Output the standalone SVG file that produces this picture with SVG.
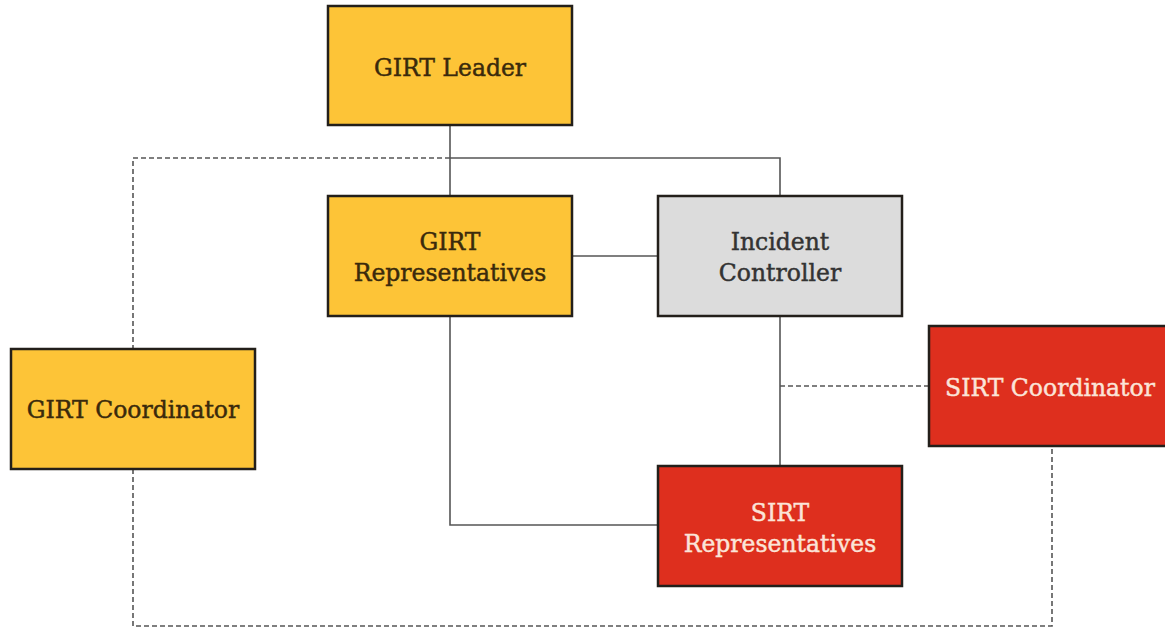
<svg xmlns="http://www.w3.org/2000/svg" width="1165" height="630" viewBox="0 0 1165 630">
<style>
.box{stroke:#231f1a;stroke-width:2.5}
.y{fill:#fdc437}
.g{fill:#dcdcdc}
.r{fill:#de2f1e}
.t{font-family:"DejaVu Serif","Liberation Serif",serif;font-size:23.5px;text-anchor:middle;stroke-width:0.45}
.ty{fill:#3a2a0c;stroke:#3a2a0c}
.tg{fill:#333333;stroke:#333333}
.tr{fill:#fbe4d8;stroke:#fbe4d8}
.solid{fill:none;stroke:#555;stroke-width:1.6}
.dash{fill:none;stroke:#555;stroke-width:1.6;stroke-dasharray:5 3}
</style>
<rect width="1165" height="630" fill="#ffffff"/>
<g id="connectors">
<path class="solid" d="M450 125 V196"/>
<path class="solid" d="M450 158 H780 V196"/>
<path class="solid" d="M572 256 H658"/>
<path class="solid" d="M780 316 V466"/>
<path class="solid" d="M450 316 V525 H658"/>
<path class="dash" d="M450 158 H133 V349"/>
<path class="dash" d="M133 469 V626 H1052 V446"/>
<path class="dash" d="M780 386 H929"/>
</g>
<g id="girt-leader">
<rect class="box y" x="328" y="6" width="244" height="119"/>
<text class="t ty" x="450" y="76">GIRT Leader</text>
</g>
<g id="girt-representatives">
<rect class="box y" x="328" y="196" width="244" height="120"/>
<text class="t ty" x="450" y="250">GIRT</text>
<text class="t ty" x="450" y="281">Representatives</text>
</g>
<g id="incident-controller">
<rect class="box g" x="658" y="196" width="244" height="120"/>
<text class="t tg" x="780" y="250">Incident</text>
<text class="t tg" x="780" y="281">Controller</text>
</g>
<g id="girt-coordinator">
<rect class="box y" x="11" y="349" width="244" height="120"/>
<text class="t ty" x="133" y="418">GIRT Coordinator</text>
</g>
<g id="sirt-coordinator">
<rect class="box r" x="929" y="326" width="250" height="120"/>
<text class="t tr" x="1050" y="396">SIRT Coordinator</text>
</g>
<g id="sirt-representatives">
<rect class="box r" x="658" y="466" width="244" height="120"/>
<text class="t tr" x="780" y="521">SIRT</text>
<text class="t tr" x="780" y="552">Representatives</text>
</g>
</svg>
